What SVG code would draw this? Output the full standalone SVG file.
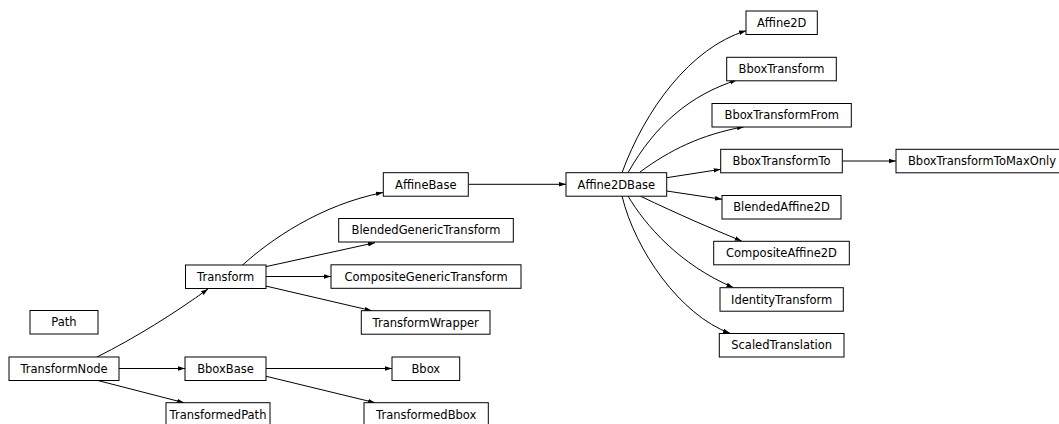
<svg xmlns="http://www.w3.org/2000/svg" width="1059" height="424" viewBox="0 0 1059 424">
<style>
.n rect{fill:#fff;stroke:#000;stroke-width:1}
.n text{font-family:"DejaVu Sans",sans-serif;font-size:11.5px;text-anchor:middle;fill:#000}
#edges path{fill:none;stroke:#000;stroke-width:1;marker-end:url(#ah)}
</style>
<defs>
<marker id="ah" markerUnits="userSpaceOnUse" markerWidth="8" markerHeight="5" refX="7" refY="2.25" orient="auto">
<path d="M0,0 L7,2.25 L0,4.5 z" fill="#000"/>
</marker>
</defs>
<rect width="1059" height="424" fill="#fff"/>
<g id="edges">
<path d="M119,368.5 L185,368.5"/>
<path d="M97,380.3 L184,402.7"/>
<path d="M97,357 C135,338 175,313 208,289"/>
<path d="M266,368.5 L392,368.5"/>
<path d="M265,376 L375,402.7"/>
<path d="M241.5,266 C270,240 320,205 383,192.5"/>
<path d="M265.7,266.7 L375,242.7"/>
<path d="M266,276.5 L331,276.5"/>
<path d="M265.7,286 L371.7,310.7"/>
<path d="M469,184.3 L566,184.3"/>
<path d="M622,172.7 C645,110 690,48 746,30.7"/>
<path d="M628,172.7 C655,125 690,95 737,80"/>
<path d="M640,172 C670,150 700,135 744,126.7"/>
<path d="M666.7,177.7 L720.7,169.3"/>
<path d="M666.7,191 L722,199.3"/>
<path d="M640,196 C680,215 710,228 741.7,241"/>
<path d="M628,196 C645,225 680,265 733.3,287.5"/>
<path d="M622,196 C635,250 680,315 730,333.3"/>
<path d="M842.3,161 L896,161"/>
</g>
<g id="Path" class="n"><rect x="30" y="310.5" width="68" height="23.5"/><text x="64" y="326.3">Path</text></g>
<g id="TransformNode" class="n"><rect x="9" y="357" width="110" height="23.5"/><text x="64" y="372.8">TransformNode</text></g>
<g id="BboxBase" class="n"><rect x="185" y="357" width="81" height="23.5"/><text x="225.5" y="372.8">BboxBase</text></g>
<g id="TransformedPath" class="n"><rect x="166" y="402.7" width="104" height="23.5"/><text x="218" y="418.5">TransformedPath</text></g>
<g id="Transform" class="n"><rect x="185.5" y="265" width="80.5" height="23.5"/><text x="225.7" y="280.8">Transform</text></g>
<g id="AffineBase" class="n"><rect x="383.3" y="172.7" width="85" height="23.5"/><text x="425.8" y="188.5">AffineBase</text></g>
<g id="BlendedGenericTransform" class="n"><rect x="338.7" y="218.5" width="174.6" height="23.5"/><text x="426" y="234.3">BlendedGenericTransform</text></g>
<g id="CompositeGenericTransform" class="n"><rect x="331" y="264.8" width="190" height="23.5"/><text x="426" y="280.6">CompositeGenericTransform</text></g>
<g id="TransformWrapper" class="n"><rect x="361.3" y="310.7" width="128.7" height="23.5"/><text x="425.7" y="326.5">TransformWrapper</text></g>
<g id="Bbox" class="n"><rect x="392" y="357" width="67.7" height="23.5"/><text x="425.8" y="372.8">Bbox</text></g>
<g id="TransformedBbox" class="n"><rect x="364" y="402.7" width="124.3" height="23.5"/><text x="426.2" y="418.5">TransformedBbox</text></g>
<g id="Affine2DBase" class="n"><rect x="566" y="172.7" width="100.7" height="23.5"/><text x="616.3" y="188.5">Affine2DBase</text></g>
<g id="Affine2D" class="n"><rect x="746" y="11" width="71.3" height="23.5"/><text x="781.7" y="26.8">Affine2D</text></g>
<g id="BboxTransform" class="n"><rect x="726.7" y="57.3" width="109.6" height="23.5"/><text x="781.5" y="73.1">BboxTransform</text></g>
<g id="BboxTransformFrom" class="n"><rect x="712" y="103.5" width="139.3" height="23.5"/><text x="781.7" y="119.3">BboxTransformFrom</text></g>
<g id="BboxTransformTo" class="n"><rect x="720.7" y="149.3" width="121.6" height="23.5"/><text x="781.5" y="165.1">BboxTransformTo</text></g>
<g id="BlendedAffine2D" class="n"><rect x="722" y="195.5" width="119" height="23.5"/><text x="781.5" y="211.3">BlendedAffine2D</text></g>
<g id="CompositeAffine2D" class="n"><rect x="713.7" y="241.3" width="135.6" height="23.5"/><text x="781.5" y="257.1">CompositeAffine2D</text></g>
<g id="IdentityTransform" class="n"><rect x="720" y="287.7" width="123.3" height="23.5"/><text x="781.7" y="303.5">IdentityTransform</text></g>
<g id="ScaledTranslation" class="n"><rect x="719.3" y="333.5" width="124.7" height="23.5"/><text x="781.7" y="349.3">ScaledTranslation</text></g>
<g id="BboxTransformToMaxOnly" class="n"><rect x="896" y="149.3" width="172" height="23.5"/><text x="982" y="165.1">BboxTransformToMaxOnly</text></g>
</svg>
